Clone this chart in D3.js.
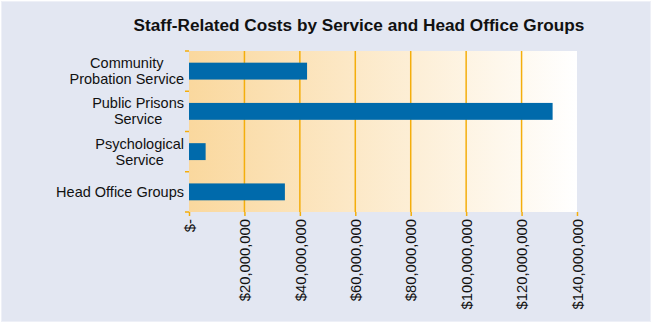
<!DOCTYPE html>
<html>
<head>
<meta charset="utf-8">
<script src="https://cdn.jsdelivr.net/npm/d3@7/dist/d3.min.js"></script>
<style>
  html, body { margin: 0; padding: 0; background: #ffffff; }
  svg { display: block; }
  text { font-family: "Liberation Sans", Arial, sans-serif; fill: #111; }
</style>
</head>
<body>
<svg id="chart" width="653" height="328"></svg>
<script>
// Staff-related costs per group (NZ$)
const categories = ["Community\nProbation Service", "Public Prisons\nService", "Psychological\nService", "Head Office Groups"];
const costs = [42600000, 131200000, 6000000, 34600000];
const tickValues = [0, 20000000, 40000000, 60000000, 80000000, 100000000, 120000000, 140000000];
const tickLabels = ["$-", "$20,000,000", "$40,000,000", "$60,000,000", "$80,000,000", "$100,000,000", "$120,000,000", "$140,000,000"];
const title = "Staff-Related Costs by Service and Head Office Groups";

const svg = d3.select("#chart");

// frame
svg.append("rect")
  .attr("x", 1.5).attr("y", 1.5).attr("width", 649).attr("height", 320)
  .attr("fill", "#e3e7f2").attr("stroke", "#eef0f7").attr("stroke-width", 1);

const plot = { left: 189, right: 577, top: 51, bottom: 212 };

const x = d3.scaleLinear().domain([0, 140000000]).range([plot.left, plot.right]);
const y = d3.scaleBand().domain(categories).range([plot.top, plot.bottom])
  .paddingInner(0.58).paddingOuter(0.29);

// plot background gradient
const defs = svg.append("defs");
const grad = defs.append("linearGradient").attr("id", "bgGrad")
  .attr("x1", "0%").attr("x2", "100%").attr("y1", "0%").attr("y2", "0%");
grad.append("stop").attr("offset", "0%").attr("stop-color", "#fad89e");
grad.append("stop").attr("offset", "100%").attr("stop-color", "#ffffff");

svg.append("rect")
  .attr("x", plot.left).attr("y", plot.top)
  .attr("width", plot.right - plot.left).attr("height", plot.bottom - plot.top)
  .attr("fill", "url(#bgGrad)");

// vertical gridlines
svg.append("g").selectAll("line")
  .data(tickValues.filter(v => v > 0 && v < 140000000))
  .join("line")
  .attr("x1", d => x(d)).attr("x2", d => x(d))
  .attr("y1", plot.top).attr("y2", plot.bottom)
  .attr("stroke", "#f4ae0c").attr("stroke-width", 1.5);

// x axis: small ticks and rotated labels
const xAxis = d3.axisBottom(x)
  .tickValues(tickValues)
  .tickFormat((d, i) => tickLabels[i])
  .tickSize(4).tickSizeOuter(0);

const gx = svg.append("g").attr("transform", `translate(0,${plot.bottom})`).call(xAxis);
gx.select(".domain").remove();
gx.selectAll(".tick line").attr("stroke", "#f4ae0c").attr("stroke-width", 1.5);
gx.selectAll(".tick text")
  .attr("transform", "rotate(-90)")
  .attr("x", -7).attr("y", 0).attr("dy", "0.35em")
  .attr("text-anchor", "end")
  .style("font-size", "14.8px")
  .style("font-family", "'Liberation Sans', Arial, sans-serif")
  .attr("fill", "#111");

// y axis ticks at band boundaries
const step = y.step();
const boundaries = d3.range(categories.length + 1).map(i => plot.top + i * step);
svg.append("g").selectAll("line")
  .data(boundaries)
  .join("line")
  .attr("x1", plot.left - 4).attr("x2", plot.left)
  .attr("y1", d => d).attr("y2", d => d)
  .attr("stroke", "#f4ae0c").attr("stroke-width", 1.5);

// bars
svg.append("g").selectAll("rect")
  .data(categories)
  .join("rect")
  .attr("x", x(0))
  .attr("y", d => y(d))
  .attr("width", (d, i) => x(costs[i]) - x(0))
  .attr("height", y.bandwidth())
  .attr("fill", "#006aab");

// category labels: multi-line, centred within block, block right-aligned to axis
const lineH = 16;
const labelRight = 184;
const labels = svg.append("g").selectAll("text")
  .data(categories)
  .join("text")
  .style("font-size", "14.5px")
  .attr("text-anchor", "middle");

labels.each(function(d) {
  const t = d3.select(this);
  const lines = d.split("\n");
  const cy = y(d) + y.bandwidth() / 2;
  const first = cy - (lines.length - 1) * lineH / 2;
  lines.forEach((ln, k) => {
    t.append("tspan").attr("y", first + k * lineH).attr("dy", "0.35em").text(ln);
  });
  const w = d3.max(t.selectAll("tspan").nodes(), n => n.getComputedTextLength());
  t.selectAll("tspan").attr("x", labelRight - w / 2);
});

// title
svg.append("text")
  .attr("x", 359).attr("y", 31)
  .attr("text-anchor", "middle")
  .style("font-size", "17.2px").style("font-weight", "bold")
  .text(title);
</script>
</body>
</html>
